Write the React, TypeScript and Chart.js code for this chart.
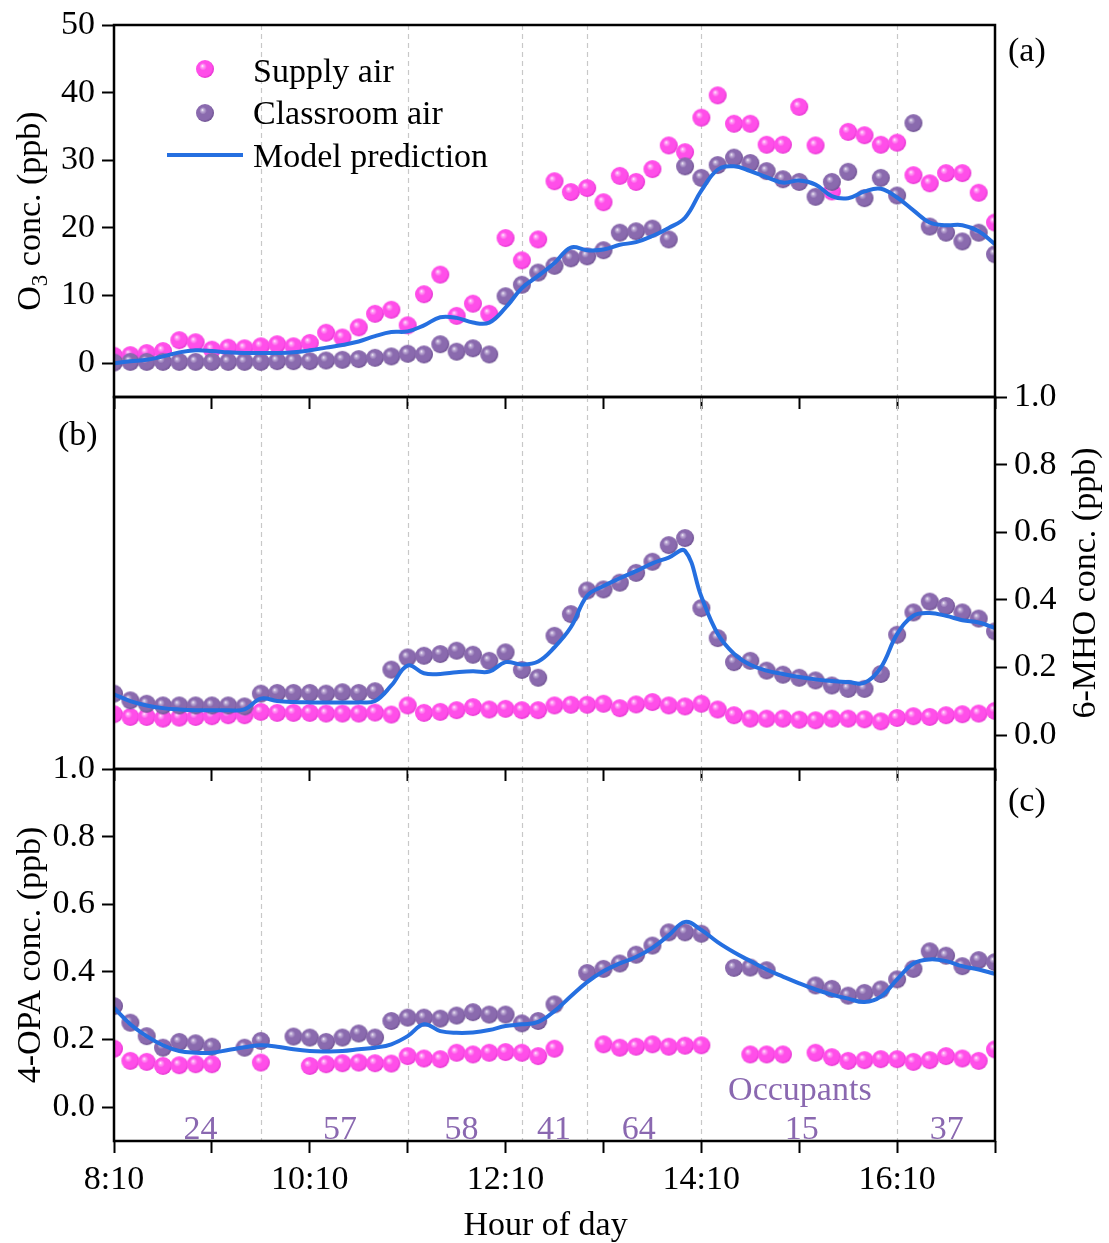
import React, { useEffect, useRef } from 'react';
import { Chart, registerables } from 'chart.js';

Chart.register(...registerables);

// ---------------- data ----------------
const timeMinutes = [0, 10, 20, 30, 40, 50, 60, 70, 80, 90, 100, 110, 120, 130, 140, 150, 160, 170, 180, 190, 200, 210, 220, 230, 240, 250, 260, 270, 280, 290, 300, 310, 320, 330, 340, 350, 360, 370, 380, 390, 400, 410, 420, 430, 440, 450, 460, 470, 480, 490, 500, 510, 520, 530, 540];
const hourTicks = [0, 60, 120, 180, 240, 300, 360, 420, 480, 540];
const hourTickLabels = ['8:10', '', '10:10', '', '12:10', '', '14:10', '', '16:10', ''];
const dividerTimes = [90, 180, 250, 290, 360, 480];

const o3Supply = [1.1, 1.2, 1.5, 1.8, 3.4, 3.1, 2.0, 2.3, 2.2, 2.5, 2.8, 2.5, 3.0, 4.5, 3.8, 5.3, 7.3, 7.9, 5.6, 10.2, 13.1, 7.0, 8.8, 7.3, 18.5, 15.2, 18.3, 26.9, 25.3, 25.9, 23.8, 27.7, 26.8, 28.7, 32.2, 31.2, 36.3, 39.6, 35.4, 35.4, 32.3, 32.3, 37.9, 32.2, 25.4, 34.2, 33.7, 32.3, 32.6, 27.8, 26.6, 28.1, 28.1, 25.2, 20.8];
const o3Classroom = [0.1, 0.2, 0.2, 0.2, 0.2, 0.2, 0.2, 0.2, 0.2, 0.2, 0.3, 0.3, 0.3, 0.4, 0.5, 0.6, 0.8, 1.0, 1.4, 1.3, 2.8, 1.7, 2.2, 1.3, 9.9, 11.6, 13.4, 14.4, 15.5, 15.8, 16.7, 19.3, 19.5, 19.9, 18.3, 29.1, 27.4, 29.3, 30.4, 29.6, 28.4, 27.2, 26.8, 24.6, 26.8, 28.3, 24.4, 27.4, 24.8, 35.5, 20.2, 19.3, 18.0, 19.3, 16.1];
const o3Model = [0.0, 0.3, 0.5, 1.0, 1.6, 1.9, 1.8, 1.6, 1.5, 1.5, 1.5, 1.6, 1.9, 2.3, 2.7, 3.2, 4.0, 4.6, 4.7, 5.6, 6.8, 6.7, 6.0, 6.0, 8.2, 11.1, 12.9, 14.8, 17.1, 16.7, 16.8, 17.5, 17.9, 18.8, 20.0, 21.5, 25.5, 28.6, 29.1, 28.4, 27.5, 26.7, 27.0, 26.4, 24.7, 24.4, 25.4, 25.8, 24.5, 22.6, 20.8, 20.4, 20.4, 19.5, 17.6];

const mhoSupply = [0.062, 0.054, 0.054, 0.049, 0.052, 0.054, 0.056, 0.059, 0.059, 0.069, 0.066, 0.066, 0.066, 0.064, 0.064, 0.064, 0.067, 0.061, 0.088, 0.066, 0.069, 0.074, 0.083, 0.076, 0.078, 0.074, 0.074, 0.088, 0.090, 0.090, 0.093, 0.080, 0.091, 0.098, 0.088, 0.085, 0.093, 0.076, 0.059, 0.049, 0.049, 0.049, 0.046, 0.044, 0.049, 0.049, 0.047, 0.041, 0.051, 0.056, 0.054, 0.059, 0.062, 0.064, 0.072];
const mhoClassroom = [0.123, 0.103, 0.093, 0.088, 0.088, 0.088, 0.088, 0.088, 0.085, 0.123, 0.125, 0.125, 0.125, 0.123, 0.127, 0.125, 0.130, 0.194, 0.230, 0.235, 0.240, 0.250, 0.238, 0.220, 0.245, 0.193, 0.170, 0.294, 0.358, 0.428, 0.431, 0.451, 0.480, 0.513, 0.562, 0.583, 0.376, 0.287, 0.216, 0.220, 0.191, 0.179, 0.170, 0.162, 0.147, 0.137, 0.137, 0.181, 0.297, 0.363, 0.395, 0.382, 0.363, 0.345, 0.307];
const mhoModel = [0.121, 0.101, 0.088, 0.080, 0.076, 0.074, 0.074, 0.074, 0.076, 0.108, 0.101, 0.098, 0.097, 0.097, 0.097, 0.097, 0.101, 0.147, 0.206, 0.183, 0.181, 0.186, 0.189, 0.188, 0.216, 0.209, 0.218, 0.260, 0.319, 0.412, 0.441, 0.464, 0.485, 0.508, 0.525, 0.545, 0.410, 0.300, 0.241, 0.208, 0.191, 0.181, 0.172, 0.165, 0.160, 0.157, 0.155, 0.200, 0.299, 0.353, 0.361, 0.353, 0.340, 0.333, 0.317];

const opaSupply = [0.173, 0.137, 0.134, 0.122, 0.124, 0.127, 0.127, null, null, 0.132, null, null, 0.122, 0.127, 0.130, 0.132, 0.130, 0.129, 0.151, 0.144, 0.142, 0.161, 0.156, 0.161, 0.163, 0.161, 0.151, 0.173, null, null, 0.186, 0.176, 0.179, 0.186, 0.179, 0.182, 0.183, null, null, 0.156, 0.156, 0.156, null, 0.161, 0.148, 0.137, 0.139, 0.142, 0.142, 0.134, 0.139, 0.151, 0.144, 0.137, 0.171];
const opaClassroom = [0.299, 0.250, 0.210, 0.176, 0.193, 0.189, 0.179, null, 0.176, 0.196, null, 0.209, 0.206, 0.193, 0.206, 0.218, 0.206, 0.255, 0.265, 0.265, 0.262, 0.271, 0.281, 0.274, 0.274, 0.248, 0.255, 0.304, null, 0.397, 0.409, 0.425, 0.451, 0.478, 0.517, 0.517, 0.513, null, 0.412, 0.413, 0.405, null, null, 0.360, 0.350, 0.330, 0.338, 0.348, 0.378, 0.409, 0.461, 0.448, 0.417, 0.435, 0.429];
const opaModel = [0.294, 0.245, 0.210, 0.183, 0.166, 0.161, 0.161, 0.169, 0.177, 0.183, 0.179, 0.171, 0.166, 0.165, 0.166, 0.171, 0.176, 0.186, 0.210, 0.245, 0.225, 0.220, 0.221, 0.228, 0.240, 0.245, 0.252, 0.284, 0.328, 0.370, 0.402, 0.425, 0.444, 0.471, 0.508, 0.548, 0.524, 0.488, 0.458, 0.432, 0.407, 0.386, 0.366, 0.348, 0.333, 0.321, 0.311, 0.327, 0.378, 0.425, 0.437, 0.432, 0.417, 0.407, 0.394];

const o3Ticks = [0, 10, 20, 30, 40, 50];
const ppbTicks = [0, 0.2, 0.4, 0.6, 0.8, 1.0];
const occupantCounts = ['24', '57', '58', '41', '64', '15', '37'];
const occupantTimes = [53, 138.5, 213, 269.7, 321.7, 421.6, 510.5];
const occupantsTitleTime = 420.4;
const xTitleTime = 264.5;

// ---------------- style ----------------
const W = 1109;
const H = 1243;
const PLOT_LEFT = 114;
const PLOT_RIGHT = 995;
const FONT = '"Liberation Serif", "Times New Roman", serif';
const FS = 34;
const BLUE = '#256fe0';
const OCC_COLOR = '#8a68b0';

function makeSphere(base: string, light: string, dark: string, r: number) {
  const c = document.createElement('canvas');
  const s = Math.ceil(r * 2) + 2;
  c.width = s;
  c.height = s;
  const g = c.getContext('2d')!;
  const cx = s / 2;
  const cy = s / 2;
  const grad = g.createRadialGradient(cx - r * 0.3, cy - r * 0.35, 0, cx - r * 0.08, cy - r * 0.08, r * 1.1);
  grad.addColorStop(0, '#ffffff');
  grad.addColorStop(0.13, light);
  grad.addColorStop(0.38, base);
  grad.addColorStop(0.8, base);
  grad.addColorStop(1, dark);
  g.fillStyle = grad;
  g.beginPath();
  g.arc(cx, cy, r, 0, Math.PI * 2);
  g.fill();
  return c;
}

function drawRotatedTitle(ctx: any, bx: number, cy: number, parts: any[]) {
  ctx.save();
  ctx.translate(bx, cy);
  ctx.rotate(-Math.PI / 2);
  ctx.fillStyle = '#000';
  ctx.textBaseline = 'alphabetic';
  ctx.textAlign = 'left';
  let total = 0;
  for (const p of parts) {
    ctx.font = `${p.size}px ${FONT}`;
    total += ctx.measureText(p.text).width;
  }
  let x = -total / 2;
  for (const p of parts) {
    ctx.font = `${p.size}px ${FONT}`;
    ctx.fillText(p.text, x, p.dy || 0);
    x += ctx.measureText(p.text).width;
  }
  ctx.restore();
}

function drawText(ctx: any, text: string, x: number, y: number, align: string, color = '#000') {
  ctx.save();
  ctx.font = `${FS}px ${FONT}`;
  ctx.fillStyle = color;
  ctx.textAlign = align;
  ctx.textBaseline = 'alphabetic';
  ctx.fillText(text, x, y);
  ctx.restore();
}

const specs: any[] = [
  {
    top: 25, bottom: 397, yMin: -5, yMax: 50, yTicks: o3Ticks, yPos: 'left',
    yFormat: (v: number) => String(v),
    supply: o3Supply, classroom: o3Classroom, model: o3Model, showXLabels: false,
    decorate: (ctx: any, a: any, x: any, sp: any) => {
      drawRotatedTitle(ctx, 40, (a.top + a.bottom) / 2, [
        { text: 'O', size: FS },
        { text: '3', size: 23, dy: 7 },
        { text: ' conc. (ppb)', size: FS },
      ]);
      drawText(ctx, '(a)', a.right + 13, a.top + 36, 'left');
      // legend
      const sx = a.left + 91;
      ctx.drawImage(sp.pink, sx - sp.pink.width / 2, a.top + 44 - sp.pink.height / 2);
      ctx.drawImage(sp.purple, sx - sp.purple.width / 2, a.top + 88 - sp.purple.height / 2);
      ctx.save();
      ctx.strokeStyle = BLUE;
      ctx.lineWidth = 4;
      ctx.beginPath();
      ctx.moveTo(a.left + 53, a.top + 130);
      ctx.lineTo(a.left + 129, a.top + 130);
      ctx.stroke();
      ctx.restore();
      drawText(ctx, 'Supply air', a.left + 139, a.top + 57, 'left');
      drawText(ctx, 'Classroom air', a.left + 139, a.top + 99, 'left');
      drawText(ctx, 'Model prediction', a.left + 139, a.top + 142, 'left');
    },
  },
  {
    top: 397, bottom: 769, yMin: -0.1, yMax: 1.0, yTicks: ppbTicks, yPos: 'right',
    yFormat: (v: number) => v.toFixed(1),
    supply: mhoSupply, classroom: mhoClassroom, model: mhoModel, showXLabels: false,
    decorate: (ctx: any, a: any) => {
      drawRotatedTitle(ctx, a.right + 100, (a.top + a.bottom) / 2, [{ text: '6-MHO conc. (ppb)', size: FS }]);
      drawText(ctx, '(b)', a.left - 56, a.top + 48, 'left');
    },
  },
  {
    top: 769, bottom: 1141, yMin: -0.1, yMax: 1.0, yTicks: ppbTicks, yPos: 'left',
    yFormat: (v: number) => v.toFixed(1),
    supply: opaSupply, classroom: opaClassroom, model: opaModel, showXLabels: true,
    decorate: (ctx: any, a: any, x: any) => {
      drawRotatedTitle(ctx, 40, (a.top + a.bottom) / 2, [{ text: '4-OPA conc. (ppb)', size: FS }]);
      drawText(ctx, '(c)', a.right + 13, a.top + 42, 'left');
      occupantCounts.forEach((label, i) => {
        drawText(ctx, label, x.getPixelForValue(occupantTimes[i]), a.bottom - 2, 'center', OCC_COLOR);
      });
      drawText(ctx, 'Occupants', x.getPixelForValue(occupantsTitleTime), a.bottom - 41, 'center', OCC_COLOR);
      drawText(ctx, 'Hour of day', x.getPixelForValue(xTitleTime), a.bottom + 94, 'center');
    },
  },
];

function makeConfig(spec: any, spheres: any) {
  const xAxisH = spec.showXLabels ? H - spec.bottom : 12;
  const yAxisW = spec.yPos === 'left' ? PLOT_LEFT : W - PLOT_RIGHT;
  const padding = {
    top: spec.top,
    bottom: H - spec.bottom - xAxisH,
    left: spec.yPos === 'left' ? 0 : PLOT_LEFT,
    right: spec.yPos === 'right' ? 0 : W - PLOT_RIGHT,
  };
  const toXY = (vals: any[]) => timeMinutes.map((t, i) => ({ x: t, y: vals[i] }));
  const tickFont = { family: FONT, size: FS };
  const gridCfg = {
    display: true, drawOnChartArea: false, drawTicks: true,
    tickLength: 12, tickWidth: 2, tickColor: '#000',
  };
  const plugin = {
    id: 'panelDeco',
    beforeDatasetsDraw(chart: any) {
      const { ctx, chartArea: a, scales } = chart;
      ctx.save();
      ctx.strokeStyle = '#c8c8c8';
      ctx.lineWidth = 1.2;
      ctx.setLineDash([5, 4]);
      for (const t of dividerTimes) {
        const px = Math.round(scales.x.getPixelForValue(t)) + 0.5;
        ctx.beginPath();
        ctx.moveTo(px, a.top);
        ctx.lineTo(px, a.bottom);
        ctx.stroke();
      }
      ctx.restore();
    },
    afterDraw(chart: any) {
      const { ctx, chartArea: a, scales } = chart;
      ctx.save();
      ctx.strokeStyle = '#000';
      ctx.lineWidth = 2.5;
      ctx.strokeRect(a.left, a.top, a.right - a.left, a.bottom - a.top);
      ctx.restore();
      spec.decorate(ctx, a, scales.x, spheres);
    },
  };
  return {
    type: 'line',
    data: {
      datasets: [
        {
          label: 'Model prediction', data: toXY(spec.model), borderColor: BLUE, borderWidth: 4,
          pointRadius: 0, tension: 0.4, fill: false, clip: 0,
        },
        {
          label: 'Classroom air', data: toXY(spec.classroom), showLine: false,
          pointStyle: spheres.purple, pointRadius: 9, clip: 0,
        },
        {
          label: 'Supply air', data: toXY(spec.supply), showLine: false,
          pointStyle: spheres.pink, pointRadius: 9, clip: 0,
        },
      ],
    },
    options: {
      responsive: false,
      animation: false,
      events: [],
      layout: { padding },
      plugins: { legend: { display: false }, tooltip: { enabled: false } },
      scales: {
        x: {
          type: 'linear', position: 'bottom', min: 0, max: 540,
          afterBuildTicks: (s: any) => { s.ticks = hourTicks.map((v) => ({ value: v })); },
          afterFit: (s: any) => { s.height = xAxisH; s.paddingLeft = 0; s.paddingRight = 0; },
          grid: gridCfg,
          border: { display: false },
          ticks: {
            display: spec.showXLabels, autoSkip: false, maxRotation: 0, minRotation: 0,
            padding: 7, color: '#000', font: tickFont,
            callback: (v: number) => { const i = hourTicks.indexOf(v); return i >= 0 ? hourTickLabels[i] : ''; },
          },
          title: { display: false },
        },
        y: {
          type: 'linear', position: spec.yPos, min: spec.yMin, max: spec.yMax,
          afterBuildTicks: (s: any) => { s.ticks = spec.yTicks.map((v: number) => ({ value: v })); },
          afterFit: (s: any) => { s.width = yAxisW; s.paddingTop = 0; s.paddingBottom = 0; },
          grid: gridCfg,
          border: { display: false },
          ticks: { color: '#000', padding: 7, font: tickFont, callback: (v: number) => spec.yFormat(v) },
        },
      },
    },
    plugins: [plugin],
  };
}

export default function App() {
  const refA = useRef<HTMLCanvasElement>(null);
  const refB = useRef<HTMLCanvasElement>(null);
  const refC = useRef<HTMLCanvasElement>(null);

  useEffect(() => {
    const spheres = {
      pink: makeSphere('#ff4ee9', '#ffa8f6', '#e231cf', 9),
      purple: makeSphere('#8a6aae', '#c3b2d9', '#6c4f8f', 9),
    };
    const refs = [refA, refB, refC];
    const charts = specs.map((spec, i) => new Chart(refs[i].current as any, makeConfig(spec, spheres) as any));
    return () => charts.forEach((c) => c.destroy());
  }, []);

  const cs: any = { position: 'absolute', left: 0, top: 0, width: W, height: H };
  return (
    <div style={{ position: 'absolute', left: 0, top: 0, width: W, height: H, background: '#fff' }}>
      <canvas ref={refA} width={W} height={H} style={cs} />
      <canvas ref={refB} width={W} height={H} style={cs} />
      <canvas ref={refC} width={W} height={H} style={cs} />
    </div>
  );
}
